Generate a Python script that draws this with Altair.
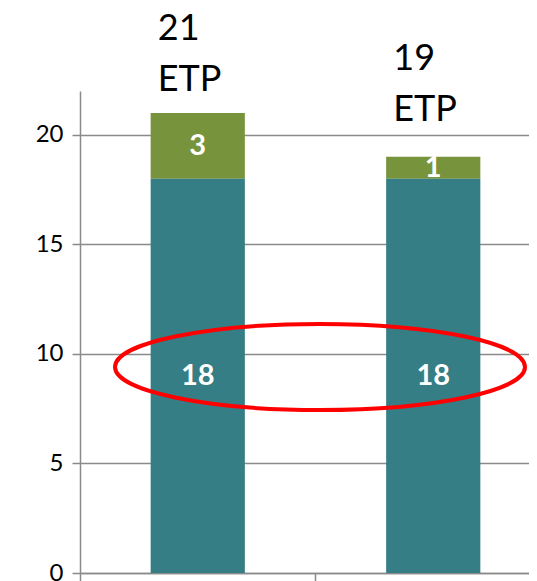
import altair as alt
import pandas as pd

# ---- data ----
categories = ["Avant", "Après"]
base_values = [18, 18]      # teal segment
top_values = [3, 1]         # green segment
unit = "ETP"
y_ticks = [0, 5, 10, 15, 20]

df = pd.DataFrame({"cat": categories, "base": base_values, "top": top_values})
df["total"] = df["base"] + df["top"]
df["label"] = df["total"].astype(str) + "\n" + unit

TEAL = "#367E85"
GREEN = "#77933C"
GRAY = "#8a8a8a"
FONT = "Lato"

xenc = alt.X(
    "cat:N",
    sort=categories,
    scale=alt.Scale(domain=categories, range=[0, 471], paddingInner=0, paddingOuter=0),
    axis=alt.Axis(labels=False, title=None, bandPosition=0, domainColor=GRAY,
                  domainWidth=1.5, tickColor=GRAY, tickWidth=1.5, tickSize=9, grid=False),
)
yscale = alt.Scale(domain=[0, 22], nice=False, zero=True)

base = alt.Chart(df)
BAR_W = alt.RelativeBandSize(0.4)

green_bar = base.mark_bar(color=GREEN, width=BAR_W).encode(
    x=xenc,
    y=alt.Y("total:Q", scale=yscale,
            axis=alt.Axis(values=y_ticks, title=None, domainColor=GRAY, domainWidth=1.5,
                          tickColor=GRAY, tickWidth=1.5, tickSize=8, gridColor=GRAY,
                          gridWidth=1.5, labelFont=FONT, labelFontSize=24,
                          labelColor="#000000", labelPadding=9)),
    y2="base:Q",
)
green_lbl = base.transform_calculate(mid="(datum.base + datum.total) / 2").mark_text(
    color="white", font=FONT, fontSize=29, fontWeight="bold", baseline="middle"
).encode(x=xenc, y=alt.Y("mid:Q", scale=yscale), text="top:Q")

teal_bar = base.mark_bar(color=TEAL, width=BAR_W).encode(
    x=xenc, y=alt.Y("base:Q", scale=yscale), y2=alt.Y2(datum=0)
)
teal_lbl = base.transform_calculate(mid="datum.base / 2").mark_text(
    color="white", font=FONT, fontSize=29, fontWeight="bold", baseline="middle"
).encode(x=xenc, y=alt.Y("mid:Q", scale=yscale), text="base:Q")

tot_dy = [-73, -87]
tot_layers = []
for c, d in zip(categories, tot_dy):
    tot_layers.append(
        base.transform_filter(alt.datum.cat == c).mark_text(
            font=FONT, fontSize=36, color="black", align="left", dx=-40, dy=d,
            baseline="alphabetic", lineBreak="\n", lineHeight=51
        ).encode(x=xenc, y=alt.Y("total:Q", scale=yscale), text="label:N")
    )

ellipse_path = ("M -1 0 C -1 -0.116 -0.552 -0.21 0 -0.21 C 0.552 -0.21 1 -0.116 1 0 "
                "C 1 0.116 0.552 0.21 0 0.21 C -0.552 0.21 -1 0.116 -1 0 Z")
ellipse = alt.Chart(pd.DataFrame({"k": [0]})).mark_point(
    shape=ellipse_path, size=168100, filled=False, stroke="#FF0000", strokeWidth=4, opacity=1
).encode(x=alt.value(240), y=alt.value(276))

chart = alt.layer(green_bar, green_lbl, teal_bar, teal_lbl, *tot_layers, ellipse).properties(
    width=449, height=482,
    autosize=alt.AutoSizeParams(type="none"),
    padding={"left": 72, "top": 83, "right": 0, "bottom": 12},
    background="white",
).configure_view(stroke=None)

chart.save("out.html", embed_options={"renderer": "svg", "actions": False})
